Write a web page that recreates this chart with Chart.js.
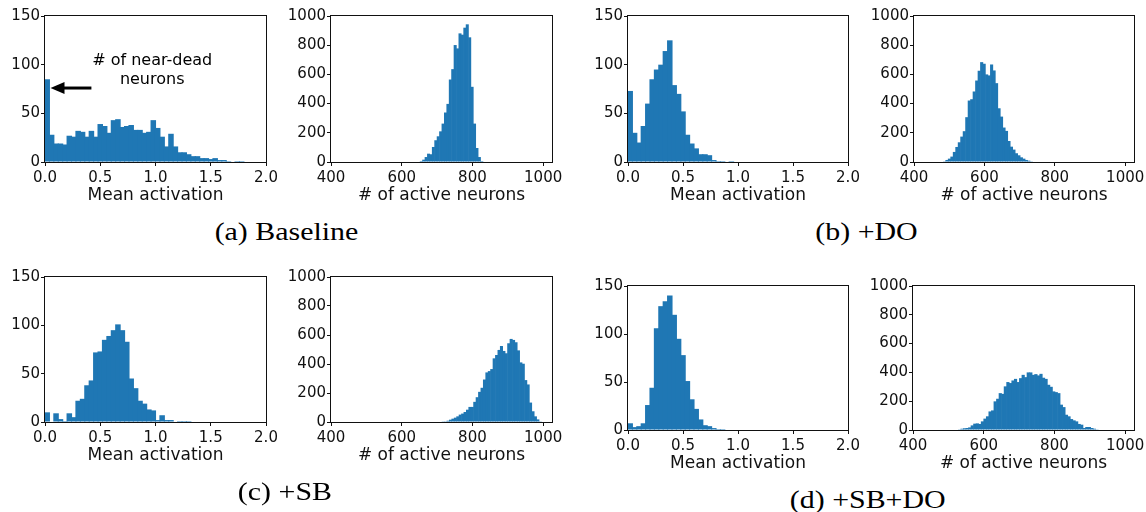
<!DOCTYPE html>
<html>
<head>
<meta charset="utf-8">
<script src="https://cdn.jsdelivr.net/npm/chart.js@4.4.1/dist/chart.umd.min.js"></script>
<style>
body { margin: 0; background: #fff; width: 1146px; height: 512px; overflow: hidden; position: relative; }
canvas { position: absolute; }
.cap { position: absolute; width: 300px; height: 36px; line-height: 36px; text-align: center;
       font-family: "Liberation Serif", serif; font-size: 26px; color: #000; white-space: nowrap; }
.cap span { display: inline-block; transform: scaleX(1.15); }
</style>
</head>
<body>
<canvas id="aAct"></canvas><canvas id="aNeu"></canvas>
<canvas id="bAct"></canvas><canvas id="bNeu"></canvas>
<canvas id="cAct"></canvas><canvas id="cNeu"></canvas>
<canvas id="dAct"></canvas><canvas id="dNeu"></canvas>
<div class="cap" style="left:136px;top:214px"><span>(a) Baseline</span></div>
<div class="cap" style="left:717px;top:214px"><span>(b) +DO</span></div>
<div class="cap" style="left:135px;top:474px"><span>(c) +SB</span></div>
<div class="cap" style="left:718px;top:482px"><span>(d) +SB+DO</span></div>
<script>
// tick labels
const actTicks = [0, 0.5, 1.0, 1.5, 2.0];
const actCountTicks = [0, 50, 100, 150];
const neuTicks = [400, 600, 800, 1000];
const neuCountTicks = [0, 200, 400, 600, 800, 1000];

// mean activation histograms, bins of 0.04 starting at 0
const actBinWidth = 0.04;
const baselineAct = [85, 28, 19, 19, 18, 27, 26, 32, 31, 26, 32, 26, 39, 37, 30, 43, 44, 36, 37, 38, 33, 33, 30, 31, 43,
                     35, 26, 16, 29, 16, 10, 10, 8, 6, 6, 4, 4, 3, 4, 2, 2, 1, 0, 1, 1];
const doAct = [73, 30, 20, 37, 60, 85, 95, 100, 114, 125, 79, 70, 52, 28, 19, 14, 8, 8, 7, 2, 1, 1, 0, 1];
const sbAct = [10, 0, 9, 3, 1, 9, 5, 22, 24, 38, 43, 72, 73, 85, 89, 95, 101, 95, 83, 45, 35, 22, 19, 13, 12, 2, 7, 2, 2, 0, 1, 1, 1];
const sbdoAct = [7, 3, 4, 7, 26, 44, 106, 129, 134, 140, 120, 95, 78, 51, 32, 22, 11, 5, 4, 2, 1, 1];

// # of active neurons histograms: first bin edge, bin width, counts
const baselineNeuStart = 652, baselineNeuWidth = 6.84;
const baselineNeu = [7, 16, 34, 57, 53, 103, 149, 176, 210, 263, 339, 398, 565, 636, 801, 778, 881, 872, 920, 943,
                     854, 515, 263, 96, 34, 7];
const doNeuStart = 483, doNeuWidth = 7.05;
const doNeu = [5, 14, 23, 37, 69, 103, 135, 174, 211, 307, 421, 430, 483, 558, 625, 684, 673, 600, 593, 668, 627, 540,
               368, 311, 236, 213, 144, 105, 85, 60, 46, 32, 23, 14, 9, 5];
const sbNeuStart = 714, sbNeuWidth = 6.86;
const sbNeu = [2, 5, 9, 16, 23, 30, 39, 51, 58, 69, 85, 104, 104, 139, 171, 208, 236, 293, 342, 351, 365, 439, 462, 497,
               524, 490, 474, 543, 573, 566, 550, 494, 411, 402, 289, 259, 134, 74, 39, 18, 5];
const sbdoNeuStart = 528, sbdoNeuWidth = 7.2;
const sbdoNeu = [2, 9, 12, 14, 18, 32, 44, 46, 42, 60, 79, 95, 129, 136, 199, 217, 256, 251, 303, 333, 326, 344, 355,
                 333, 360, 383, 367, 400, 400, 383, 388, 379, 390, 363, 355, 314, 300, 268, 263, 256, 176, 159, 106,
                 95, 76, 67, 60, 42, 37, 14, 21, 21, 14, 9, 2];

// annotation in (a), data coordinates
const noteLines = ['# of near-dead', 'neurons'];
const noteX = 0.97, noteY = [104, 84];
const arrowFrom = [0.42, 76], arrowTo = [0.05, 76];

const BLUE = '#1f77b4';
const INK = '#111';
const FONT = 'DejaVu Sans';
const AXIS_W = 50, AXIS_H = 50, PAD_T = 12, PAD_R = 24;

function bins(counts, start, width) {
  return counts.map((c, i) => ({ x: start + width * (i + 0.5), y: c }));
}

const frame = {
  id: 'frame',
  afterDatasetsDraw(chart) {
    const { ctx, chartArea: a } = chart;
    ctx.save();
    ctx.strokeStyle = INK;
    ctx.lineWidth = 1;
    ctx.strokeRect(a.left - 0.5, a.top - 0.5, a.width + 1, a.height + 1);
    ctx.restore();
  }
};

const note = {
  id: 'note',
  afterDatasetsDraw(chart) {
    const { ctx, scales: { x, y } } = chart;
    ctx.save();
    ctx.fillStyle = '#000';
    ctx.font = '16px "' + FONT + '"';
    ctx.textAlign = 'center';
    ctx.textBaseline = 'middle';
    noteLines.forEach((t, i) => ctx.fillText(t, x.getPixelForValue(noteX), y.getPixelForValue(noteY[i])));
    const x0 = x.getPixelForValue(arrowFrom[0]), y0 = y.getPixelForValue(arrowFrom[1]);
    const x1 = x.getPixelForValue(arrowTo[0]), y1 = y.getPixelForValue(arrowTo[1]);
    ctx.strokeStyle = '#000';
    ctx.lineWidth = 3;
    ctx.beginPath();
    ctx.moveTo(x0, y0);
    ctx.lineTo(x1 + 10, y1);
    ctx.stroke();
    ctx.beginPath();
    ctx.moveTo(x1, y1);
    ctx.lineTo(x1 + 14, y1 - 6);
    ctx.lineTo(x1 + 14, y1 + 6);
    ctx.closePath();
    ctx.fill();
    ctx.restore();
  }
};

function histogram(id, left, top, w, h, points, kind, annotate) {
  const isAct = kind === 'act';
  const cv = document.getElementById(id);
  cv.width = w + AXIS_W + PAD_R;
  cv.height = h + PAD_T + AXIS_H;
  cv.style.left = (left - AXIS_W) + 'px';
  cv.style.top = (top - PAD_T) + 'px';
  const xTicks = isAct ? actTicks : neuTicks;
  const yTicks = isAct ? actCountTicks : neuCountTicks;
  new Chart(cv, {
    type: 'bar',
    data: {
      datasets: [{
        data: points,
        backgroundColor: BLUE,
        borderWidth: 0,
        barPercentage: 1.25,
        categoryPercentage: 1,
        grouped: false
      }]
    },
    options: {
      responsive: false,
      animation: false,
      devicePixelRatio: 1,
      layout: { padding: { left: 0, top: PAD_T, right: PAD_R, bottom: 0 } },
      plugins: { legend: { display: false }, tooltip: { enabled: false } },
      scales: {
        x: {
          type: 'linear',
          min: isAct ? 0 : 400,
          max: isAct ? 2.0 : 1025,
          offset: false,
          grid: { offset: false, drawOnChartArea: false, tickLength: 4, color: INK },
          border: { display: false },
          ticks: {
            font: { family: FONT, size: 15 }, color: INK, padding: 3, maxRotation: 0, autoSkip: false,
            callback: v => isAct ? v.toFixed(1) : String(v)
          },
          afterBuildTicks: s => { s.ticks = xTicks.map(v => ({ value: v })); },
          afterFit: s => { s.height = AXIS_H; },
          title: {
            display: true, text: isAct ? 'Mean activation' : '# of active neurons',
            font: { family: FONT, size: 17, lineHeight: 1.2 }, color: INK, padding: { top: 0, bottom: 6 }
          }
        },
        y: {
          min: 0,
          max: isAct ? 150 : 1000,
          grid: { drawOnChartArea: false, tickLength: 4, color: INK },
          border: { display: false },
          ticks: { font: { family: FONT, size: 15 }, color: INK, padding: 1, callback: v => String(v) },
          afterBuildTicks: s => { s.ticks = yTicks.map(v => ({ value: v })); },
          afterFit: s => { s.width = AXIS_W; }
        }
      }
    },
    plugins: annotate ? [frame, note] : [frame]
  });
}

histogram('aAct', 45, 16, 221, 146, bins(baselineAct, 0, actBinWidth), 'act', true);
histogram('aNeu', 331, 16, 221, 146, bins(baselineNeu, baselineNeuStart, baselineNeuWidth), 'neu');
histogram('bAct', 628, 16, 220, 146, bins(doAct, 0, actBinWidth), 'act');
histogram('bNeu', 914, 16, 220, 146, bins(doNeu, doNeuStart, doNeuWidth), 'neu');
histogram('cAct', 45, 277, 221, 145, bins(sbAct, 0, actBinWidth), 'act');
histogram('cNeu', 331, 277, 221, 145, bins(sbNeu, sbNeuStart, sbNeuWidth), 'neu');
histogram('dAct', 628, 286, 220, 144, bins(sbdoAct, 0, actBinWidth), 'act');
histogram('dNeu', 913, 286, 221, 144, bins(sbdoNeu, sbdoNeuStart, sbdoNeuWidth), 'neu');
</script>
</body>
</html>
